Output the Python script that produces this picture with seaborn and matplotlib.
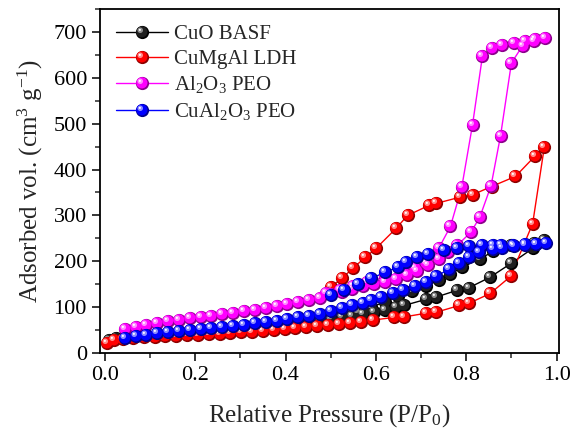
import seaborn as sns
import matplotlib.pyplot as plt
import numpy as np
from matplotlib.markers import MarkerStyle
from matplotlib.transforms import Affine2D
from matplotlib.lines import Line2D
from matplotlib.legend_handler import HandlerTuple
from matplotlib.colors import to_rgb

sns.set_style("ticks")
plt.rcParams['font.family'] = ['Liberation Serif', 'DejaVu Serif']
plt.rcParams['mathtext.fontset'] = 'custom'
plt.rcParams['mathtext.rm'] = 'Liberation Serif'
plt.rcParams['mathtext.it'] = 'Liberation Serif:italic'

# CuO BASF
cuo_ads_p = [0.01, 0.025, 0.045, 0.068, 0.092, 0.116, 0.14, 0.164, 0.188, 0.212, 0.236, 0.26,
             0.284, 0.308, 0.332, 0.356, 0.38, 0.404, 0.428, 0.452, 0.476, 0.50, 0.524, 0.548,
             0.572, 0.596, 0.62, 0.645, 0.663, 0.71, 0.733, 0.78, 0.807, 0.852, 0.9, 0.947, 0.973]
cuo_ads_v = [28, 32, 35, 38, 40, 42, 44, 46, 48, 50, 52, 54, 56, 58, 60, 62, 64, 66, 68, 70, 72,
             75, 78, 82, 86, 90, 95, 100, 104, 117, 122, 137, 143, 165, 196, 228, 246]
cuo_des_p = [0.95, 0.9, 0.86, 0.83, 0.79, 0.765, 0.74, 0.71, 0.68, 0.65, 0.62, 0.59, 0.56]
cuo_des_v = [240, 236, 222, 205, 187, 172, 159, 146, 135, 124, 112, 100, 90]

# CuMgAl LDH
ldh_ads_p = [0.005, 0.02, 0.04, 0.062, 0.086, 0.11, 0.134, 0.158, 0.182, 0.206, 0.23, 0.254,
             0.278, 0.302, 0.326, 0.35, 0.374, 0.398, 0.422, 0.446, 0.47, 0.494, 0.518, 0.542,
             0.566, 0.593, 0.641, 0.663, 0.711, 0.733, 0.785, 0.807, 0.853, 0.898, 0.947, 0.973]
ldh_ads_v = [22, 28, 31, 33, 35, 36, 37, 38, 39, 40, 41, 42, 43, 45, 47, 49, 51, 53, 55, 57, 59,
             61, 63, 65, 68, 72, 78, 79, 87, 89, 104, 109, 130, 167, 282, 450]
ldh_des_p = [0.953, 0.909, 0.856, 0.814, 0.787, 0.733, 0.718, 0.67, 0.645, 0.60, 0.577, 0.549,
             0.525, 0.50]
ldh_des_v = [430, 385, 363, 345, 340, 326, 322, 300, 272, 228, 209, 185, 163, 144]

# Al2O3 PEO
alo_ads_p = [0.045, 0.068, 0.092, 0.116, 0.14, 0.164, 0.188, 0.212, 0.236, 0.26, 0.284, 0.308,
             0.332, 0.356, 0.38, 0.404, 0.428, 0.452, 0.476, 0.50, 0.524, 0.548, 0.572, 0.596,
             0.62, 0.644, 0.668, 0.692, 0.716, 0.74, 0.76, 0.78, 0.81, 0.83, 0.855, 0.876, 0.90,
             0.925, 0.95, 0.975]
alo_ads_v = [53, 58, 62, 66, 70, 73, 76, 79, 82, 85, 88, 91, 95, 99, 103, 107, 111, 115, 120,
             128, 134, 140, 146, 151, 156, 162, 170, 180, 192, 205, 220, 235, 263, 296, 365, 474,
             632, 670, 680, 687]
alo_des_p = [0.953, 0.93, 0.905, 0.88, 0.858, 0.836, 0.814, 0.79, 0.765, 0.74, 0.71, 0.686, 0.66,
             0.62, 0.58, 0.55, 0.52, 0.49]
alo_des_v = [685, 680, 676, 672, 665, 648, 498, 361, 276, 230, 196, 185, 176, 167, 154, 146, 138,
             130]

# CuAl2O3 PEO
cal_ads_p = [0.045, 0.068, 0.092, 0.116, 0.14, 0.164, 0.188, 0.212, 0.236, 0.26, 0.284, 0.308,
             0.332, 0.356, 0.38, 0.404, 0.428, 0.452, 0.476, 0.50, 0.524, 0.548, 0.572, 0.59,
             0.612, 0.637, 0.66, 0.686, 0.71, 0.734, 0.761, 0.785, 0.807, 0.829, 0.86, 0.88,
             0.905, 0.93, 0.955, 0.977]
cal_ads_v = [34, 37, 40, 43, 45, 48, 50, 52, 54, 56, 59, 62, 65, 68, 71, 74, 78, 82, 86, 92, 98,
             104, 110, 116, 122, 130, 137, 146, 154, 167, 183, 196, 209, 220, 226, 230, 233, 235,
             237, 239]
cal_des_p = [0.955, 0.93, 0.903, 0.878, 0.86, 0.836, 0.807, 0.78, 0.75, 0.715, 0.69, 0.667,
             0.648, 0.62, 0.59, 0.56, 0.53, 0.50]
cal_des_v = [238, 237, 236, 236, 236, 235, 234, 230, 224, 215, 209, 198, 187, 176, 163, 150,
             138, 126]

series = [
    ("CuO BASF", "#000000", cuo_ads_p + cuo_des_p, cuo_ads_v + cuo_des_v),
    ("CuMgAl LDH", "#FF0000", ldh_ads_p + ldh_des_p, ldh_ads_v + ldh_des_v),
    ("Al$_2$O$_3$ PEO", "#FF00FF", alo_ads_p + alo_des_p, alo_ads_v + alo_des_v),
    ("CuAl$_2$O$_3$ PEO", "#0000FF", cal_ads_p + cal_des_p, cal_ads_v + cal_des_v),
]

fig = plt.figure(figsize=(5.72, 4.42), dpi=100)
ax = fig.add_axes([0.175, 0.201, 0.802, 0.779])

ms = 9.5


def mix(c, w, f):
    c = np.array(to_rgb(c))
    return tuple(c * (1 - f) + np.array(to_rgb(w)) * f)


def sphere_layers(color):
    # shaded ball: dark rim, main body, light spot, white glint
    dark = mix(color, "black", 0.45)
    light = mix(color, "white", 0.55) if color != "#000000" else (0.55, 0.55, 0.55)
    return [
        (MarkerStyle("o"), dark),
        (MarkerStyle("o", transform=Affine2D().scale(0.85).translate(-0.05, 0.05)),
         color if color != "#000000" else (0.12, 0.12, 0.12)),
        (MarkerStyle("o", transform=Affine2D().scale(0.42).translate(-0.17, 0.17)), light),
        (MarkerStyle("o", transform=Affine2D().scale(0.16).translate(-0.2, 0.2)), "white"),
    ]


handles, labels = [], []
for name, color, px, vy in series:
    sns.lineplot(x=px, y=vy, sort=False, estimator=None, color=color, lw=1.0, ax=ax, zorder=2)
    parts = [Line2D([], [], color=color, lw=1.0)]
    for mk, fc in sphere_layers(color):
        ax.plot(px, vy, ls="none", marker=mk, markersize=ms, markerfacecolor=fc,
                markeredgewidth=0, zorder=3)
        parts.append(Line2D([], [], ls="none", marker=mk, markersize=ms,
                            markerfacecolor=fc, markeredgewidth=0))
    handles.append(tuple(parts))
    labels.append(name)

ax.set_xlim(-0.0105, 1.005)
ax.set_ylim(0, 750)
ax.set_xticks(np.arange(0, 1.01, 0.2))
ax.set_xticks(np.arange(0.1, 1.0, 0.2), minor=True)
ax.set_yticks(np.arange(0, 701, 100))
ax.set_yticks(np.arange(50, 751, 100), minor=True)
ax.xaxis.set_major_formatter(plt.FormatStrFormatter("%.1f"))
ax.tick_params(axis="both", which="major", direction="out", length=6, width=1.1,
               labelsize=16, colors="black", top=False, right=False)
ax.tick_params(axis="both", which="minor", direction="out", length=3.5, width=1.1,
               top=False, right=False)
for sp in ax.spines.values():
    sp.set_visible(True)
    sp.set_linewidth(1.3)
    sp.set_color("black")

ax.set_xlabel("Relative Pressure (P/P$_0$)", fontsize=18, labelpad=12)
ax.set_ylabel("Adsorbed vol. (cm$^3$ g$^{-1}$)", fontsize=18, labelpad=6)

ax.legend(handles, labels, handler_map={tuple: HandlerTuple(ndivide=1, pad=0)},
          loc="upper left", bbox_to_anchor=(0.0, 1.0), frameon=False, fontsize=15,
          handlelength=2.5, handletextpad=0.3, labelspacing=0.26, borderaxespad=0.35,
          numpoints=1)

fig.savefig("out.png", dpi=100)
plt.close(fig)
